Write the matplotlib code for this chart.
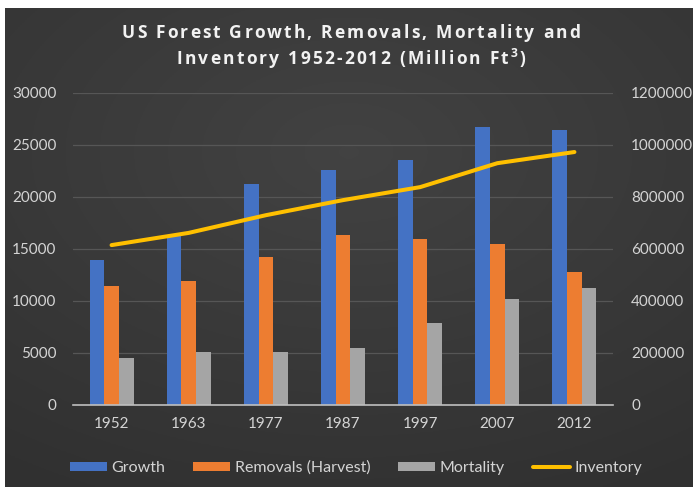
import matplotlib
matplotlib.use("Agg")
import matplotlib.pyplot as plt
import numpy as np
from matplotlib.ticker import FuncFormatter

# Data (million cubic feet)
years = ["1952", "1963", "1977", "1987", "1997", "2007", "2012"]
growth = [13950, 16300, 21250, 22600, 23600, 26750, 26450]
removals = [11450, 11950, 14200, 16350, 15950, 15450, 12800]
mortality = [4500, 5100, 5100, 5500, 7850, 10150, 11250]
inventory = [615000, 662000, 730000, 788000, 838000, 930000, 973000]

title_lines = ["US Forest Growth, Removals, Mortality and",
               "Inventory 1952-2012 (Million Ft\u00b3)"]

text_col = "#d4d4d4"
W, H = 693, 487

fig = plt.figure(figsize=(W / 100, H / 100), dpi=100, facecolor="white")
renderer = fig.canvas.get_renderer()

# dark chart background with a soft radial shading, white margin top/left
bg_ax = fig.add_axes([5 / W, 0, 688 / W, 479 / H], zorder=-1)
gy, gx = np.mgrid[-1:1:200j, -1:1:280j]
r = np.clip(np.sqrt((gx * 0.9) ** 2 + (gy + 0.4) ** 2) / 1.6, 0, 1)
shade = 0.26 - 0.07 * r
bg_ax.imshow(np.dstack([shade] * 3), aspect="auto", extent=(0, 1, 0, 1))
bg_ax.set_axis_off()

ax = fig.add_axes([73 / W, 1 - 405 / H, 540 / W, 312 / H])
ax.set_facecolor("none")
ax2 = ax.twinx()

x = np.arange(len(years))
w = 0.19
ax.bar(x - w, growth, w, color="#4472C4", label="Growth", zorder=2)
ax.bar(x, removals, w, color="#ED7D31", label="Removals (Harvest)", zorder=2)
ax.bar(x + w, mortality, w, color="#A5A5A5", label="Mortality", zorder=2)
ax2.plot(x, inventory, color="#FFC000", lw=2.9, solid_capstyle="round", label="Inventory")

ax.set_xlim(-0.5, len(years) - 0.5)
ax.set_ylim(0, 30000)
ax.set_yticks(range(0, 30001, 5000))
ax2.set_ylim(0, 1200000)
ax2.set_yticks(range(0, 1200001, 200000))
ax2.yaxis.set_major_formatter(FuncFormatter(lambda v, p: f"{v:.0f}"))
ax.set_xticks(x)
ax.set_xticklabels(years)

ax.yaxis.grid(True, color="#565656", lw=0.9, zorder=0)
ax.set_axisbelow(True)
for a in (ax, ax2):
    for s in a.spines.values():
        s.set_visible(False)
    a.tick_params(length=0, colors=text_col, labelsize=11)
    for lab in a.get_xticklabels() + a.get_yticklabels():
        lab.set_family("Lato")
ax.spines["bottom"].set_visible(True)
ax.spines["bottom"].set_color("#bfbfbf")
ax.spines["bottom"].set_linewidth(1.2)
ax.tick_params(axis="y", pad=12)
ax.tick_params(axis="x", pad=9)
ax2.tick_params(axis="y", pad=13)


def tracked_text(s, xc_px, base_px, tracking_px, **kw):
    """Centered text with extra letter spacing, placed char by char."""
    def width(t):
        probe = fig.text(0, 0, t + "|", **kw)
        wpx = probe.get_window_extent(renderer).width
        probe.remove()
        return wpx
    bar_w = width("")
    adv = [width(s[:i]) - bar_w for i in range(len(s) + 1)]
    total = adv[-1] + tracking_px * (len(s) - 1)
    x0 = xc_px - total / 2
    for i, ch in enumerate(s):
        xpos = (x0 + adv[i] + i * tracking_px) / W
        if ch == " ":
            continue
        if ch == "\u00b3":
            # superscript drawn as a small raised "3"
            sup_kw = dict(kw, fontsize=kw["fontsize"] * 0.7)
            fig.text(xpos, 1 - (base_px - 7) / H, "3", ha="left", va="baseline", **sup_kw)
        else:
            fig.text(xpos, 1 - base_px / H, ch, ha="left", va="baseline", **kw)


title_kw = dict(color="#f2f2f2", fontsize=12.5, fontweight="bold", family="Open Sans")
tracked_text(title_lines[0], 351, 38, 2.2, **title_kw)
tracked_text(title_lines[1], 351, 64, 2.2, **title_kw)

h1, l1 = ax.get_legend_handles_labels()
h2, l2 = ax2.get_legend_handles_labels()
leg = fig.legend(h1 + h2, l1 + l2, loc="center", bbox_to_anchor=(356 / W, 1 - 468 / H),
                 ncol=4, frameon=False, handlelength=2.3, handleheight=0.45,
                 handletextpad=0.3, columnspacing=1.75, borderpad=0,
                 prop={"family": "Lato", "size": 11.5})
for t in leg.get_texts():
    t.set_color(text_col)

fig.savefig("out.png", dpi=100, facecolor=fig.get_facecolor())
